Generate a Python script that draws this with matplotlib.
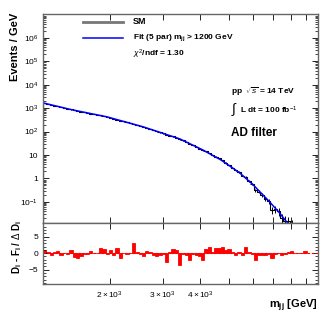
import numpy as np
import matplotlib
matplotlib.use("Agg")
import matplotlib.pyplot as plt
from matplotlib.ticker import FixedLocator, NullFormatter, FixedFormatter

plt.rcParams['font.family'] = ['Liberation Sans', 'DejaVu Sans']
plt.rcParams['mathtext.fontset'] = 'custom'
plt.rcParams['mathtext.rm'] = 'Liberation Sans'
plt.rcParams['mathtext.it'] = 'Liberation Sans:italic'
plt.rcParams['mathtext.bf'] = 'Liberation Sans:bold'

# ---- data ----
# fit curve (5-parameter dijet fit)
fit_mass = [1200, 1500, 1960, 2590, 3416, 4073, 4680, 5405, 6000, 6800, 7330, 7800, 8400, 9000]
fit_vals = [1680, 850, 425, 158, 49, 16.6, 6.2, 1.74, 0.53, 0.10, 0.034, 0.0126, 0.003, 0.0006]

# SM histogram (events / GeV) per bin and its errors
sm_vals = [1620, 1500, 1380, 1290, 1190, 1100, 1020, 942, 878, 809, 756, 711, 668, 626, 591,
           550, 515, 488, 456, 423, 390, 352, 328, 293, 271, 247, 226, 212, 190, 173, 157,
           143, 129, 114, 102, 92.3, 83.2, 72.2, 67.7, 61.8, 55.3, 46.3, 41.7, 35.5, 29.5,
           26.2, 22.2, 18.8, 15.7, 14.3, 12.2, 9.8, 8.5, 7.11, 5.95, 4.61, 3.76, 2.91, 2.19,
           1.87, 1.31, 1.19, 0.806, 0.564, 0.318, 0.276, 0.194, 0.139, 0.105, 0.0459, 0.0487,
           0.0404, 0.0196, 0.0151, 0.0148, 0.0103, 0.00462, 0.00248, 0.00138, 0.00206]
sm_errs = [7.28, 6.91, 6.55, 6.24, 5.93, 5.62, 5.35, 5.08, 4.84, 4.59, 4.38, 4.19, 4.01, 3.84,
           3.68, 3.51, 3.35, 3.22, 3.08, 2.92, 2.77, 2.6, 2.48, 2.31, 2.2, 2.07, 1.96, 1.87,
           1.75, 1.65, 1.55, 1.46, 1.37, 1.27, 1.19, 1.12, 1.05, 0.963, 0.921, 0.869, 0.811,
           0.733, 0.687, 0.626, 0.563, 0.524, 0.477, 0.434, 0.391, 0.368, 0.336, 0.297, 0.273,
           0.247, 0.223, 0.194, 0.173, 0.15, 0.129, 0.117, 0.097, 0.0913, 0.0742, 0.0613,
           0.0455, 0.0418, 0.0346, 0.029, 0.0249, 0.0162, 0.0165, 0.0148, 0.0102, 0.00884,
           0.00865, 0.00711, 0.00471, 0.00341, 0.00251, 0.00303]

# (D_i - F_i) / dD_i per bin
residuals = [0.9, 0.5, -0.6, 0.3, 0.6, -0.5, 0.2, -0.2, 1.0, -1.2, -1.6, -1.0, -0.4, -0.3,
             0.8, -0.1, -0.1, 1.5, 1.3, -0.2, 1.0, -0.6, 1.6, -1.4, 0.2, -0.2, 0.1, 3.0,
             0.4, -0.2, -0.9, 0.8, 0.5, -0.5, -0.9, -0.5, -0.2, -2.8, 0.3, 1.4, 1.0, -3.5,
             -0.3, -0.6, -2.2, -0.2, -0.6, -1.0, -2.0, 1.3, 2.0, 0.5, 1.6, 1.5, 2.0, 1.0,
             1.3, 0.5, -0.6, 0.5, -0.7, 1.8, 0.4, -0.3, -2.0, -0.6, -0.6, -0.5, -0.2, -1.5,
             -0.3, 0.2, -0.5, -0.2, 0.5, 0.6, 0.1, 0.0, 0.0, 0.7]

mass_lo, mass_hi = 1200, 9020
x_ticks = [2000, 3000, 4000, 5000, 6000, 7000, 8000, 9000]
x_tick_labels = [r'$2\times10^{3}$', r'$3\times10^{3}$', r'$4\times10^{3}$', '', '', '', '', '']

edges = np.geomspace(mass_lo, mass_hi, len(residuals) + 1)
centers = np.sqrt(edges[:-1] * edges[1:])
widths = np.diff(edges)

fig = plt.figure(figsize=(3.32, 3.20), dpi=100)
L, W = 43/332, 275/332
ax = fig.add_axes([L, 1-223/320, W, 209/320])
axr = fig.add_axes([L, 1-284/320, W, 61/320], sharex=ax)

ax.stairs(sm_vals, edges, color='black', lw=0.8)
ax.errorbar(centers, sm_vals, yerr=sm_errs, xerr=widths/2, fmt='none', ecolor='black', elinewidth=0.7)
ax.plot(fit_mass, fit_vals, color='#0000ff', lw=1.1)
ax.set_xscale('log')
ax.set_yscale('log')
ax.set_xlim(1200, 9850)
ax.set_ylim(0.0125, 1.05e7)

ylabels = {1e-1: r'$10^{-1}$', 1: '1', 10: '10', 1e2: r'$10^{2}$', 1e3: r'$10^{3}$',
           1e4: r'$10^{4}$', 1e5: r'$10^{5}$', 1e6: r'$10^{6}$'}
yt = sorted(ylabels)
ax.yaxis.set_major_locator(FixedLocator(yt))
ax.yaxis.set_major_formatter(FixedFormatter([ylabels[k] for k in yt]))
minors = [m * 10.0**e for e in range(-2, 7) for m in range(2, 10)]
ax.yaxis.set_minor_locator(FixedLocator(minors))
ax.yaxis.set_minor_formatter(NullFormatter())

for a in (ax, axr):
    a.xaxis.set_major_locator(FixedLocator(x_ticks))
    a.xaxis.set_minor_locator(FixedLocator([]))
    a.tick_params(which='both', direction='in', top=True, right=True, labelsize=6)
    a.tick_params(which='major', length=4, width=0.6)
    a.tick_params(which='minor', length=2, width=0.5)
    for s in a.spines.values():
        s.set_color('#666666')
        s.set_linewidth(1.0)
ax.tick_params(axis='x', labelbottom=False)
axr.xaxis.set_major_formatter(FixedFormatter(x_tick_labels))
axr.tick_params(axis='x', pad=4)

axr.bar(edges[:-1], residuals, width=widths, align='edge', color='red', edgecolor='red', lw=0.6)
axr.axhline(0, color='red', lw=0.8, ls=(0, (2, 1.5)))
axr.set_ylim(-9.3, 9.1)
axr.yaxis.set_major_locator(FixedLocator([-5, 0, 5]))
axr.yaxis.set_major_formatter(FixedFormatter(['\u22125', '0', '5']))
axr.yaxis.set_minor_locator(FixedLocator([v for v in range(-9, 10) if v % 5]))

# legend
ax.plot([0.145, 0.291], [0.962, 0.962], transform=ax.transAxes, color='#777777', lw=2)
ax.plot([0.145, 0.291], [0.885, 0.885], transform=ax.transAxes, color='#0000ff', lw=1.1)
ax.text(0.327, 0.962, 'SM', transform=ax.transAxes, fontsize=6.5, fontweight='bold', va='center')
ax.text(0.327, 0.885, r'Fit (5 par) m$_{\mathbf{jj}}$ > 1200 GeV', transform=ax.transAxes,
        fontsize=6, fontweight='bold', va='center')
ax.text(0.327, 0.809, r'$\chi^{2}$/ndf = 1.30', transform=ax.transAxes,
        fontsize=6, fontweight='bold', va='center')
ax.text(0.684, 0.627, r'pp  $\sqrt{s}$ = 14 TeV', transform=ax.transAxes,
        fontsize=6, fontweight='bold', va='center')
ax.text(0.684, 0.541, r'$\int$', transform=ax.transAxes, fontsize=10, va='center')
ax.text(0.716, 0.541, r'L dt = 100 fb$^{-1}$', transform=ax.transAxes,
        fontsize=6, fontweight='bold', va='center')
ax.text(0.684, 0.431, 'AD filter', transform=ax.transAxes, fontsize=8.5, fontweight='bold', va='center')

fig.text(15/332, 1-13/320, 'Events / GeV', rotation=90, ha='center', va='top',
         fontsize=8, fontweight='bold')
fig.text(17/332, 1-247/320, r'D$_{\mathbf{i}}$ - F$_{\mathbf{i}}$ / $\Delta$ D$_{\mathbf{i}}$',
         rotation=90, ha='center', va='center', fontsize=7, fontweight='bold')
fig.text(318/332, 1-306/320, r'm$_{\mathbf{jj}}$ [GeV]', ha='right', va='center',
         fontsize=8, fontweight='bold')

fig.savefig('out.png', dpi=100)
